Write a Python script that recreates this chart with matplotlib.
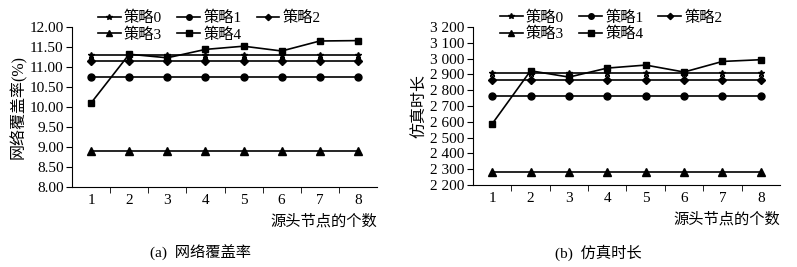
import matplotlib.pyplot as plt
from matplotlib.ticker import FuncFormatter

plt.rcParams['font.family'] = ['Liberation Serif', 'Noto Sans CJK SC']

nodes = [1, 2, 3, 4, 5, 6, 7, 8]
names = ["策略0", "策略1", "策略2", "策略3", "策略4"]
markers = ["*", "o", "D", "^", "s"]
msizes = [5, 5, 4, 6, 5]

# 网络覆盖率 (%)
cover0 = [11.29] * 8
cover1 = [10.75] * 8
cover2 = [11.14] * 8
cover3 = [8.90] * 8
cover4 = [10.10, 11.32, 11.23, 11.44, 11.52, 11.40, 11.65, 11.66]

# 仿真时长
time0 = [2908] * 8
time1 = [2763] * 8
time2 = [2866] * 8
time3 = [2283] * 8
time4 = [2587, 2923, 2883, 2940, 2959, 2915, 2982, 2993]

fig = plt.figure(figsize=(7.97, 2.67), dpi=100)
ax1 = fig.add_axes([72 / 797, 1 - 187 / 267, 305 / 797, 160 / 267])
ax2 = fig.add_axes([473 / 797, 1 - 185 / 267, 307 / 797, 158 / 267])


def Dibujar(ax, series, ymin, ymax, step, fmt, ylabel):
    lineas = []
    for s, n, m, ms in zip(series, names, markers, msizes):
        l, = ax.plot(nodes, s, color="black", lw=1.2, marker=m, ms=ms, label=n)
        lineas.append(l)
    ax.set_xlim(0.5, 8.5)
    ax.set_ylim(ymin, ymax)
    yt = []
    v = ymin
    while v <= ymax + 1e-9:
        yt.append(v)
        v += step
    ax.set_yticks(yt)
    ax.yaxis.set_major_formatter(FuncFormatter(fmt))
    ax.set_xticks(nodes)
    ax.set_xticks([i + 0.5 for i in range(1, 8)], minor=True)
    ax.tick_params(axis="x", which="major", length=0, labelsize=11, pad=5)
    ax.tick_params(axis="x", which="minor", length=4, direction="out")
    ax.tick_params(axis="y", length=4, direction="out", labelsize=11, pad=2)
    ax.spines["top"].set_visible(False)
    ax.spines["right"].set_visible(False)
    ax.set_ylabel(ylabel, fontsize=11.5, labelpad=2)
    ax.text(1.0, -0.17, "源头节点的个数", transform=ax.transAxes,
            ha="right", va="top", fontsize=11)
    # orden por filas: 0 1 2 / 3 4
    orden = [0, 3, 1, 4, 2]
    ax.legend([lineas[i] for i in orden], [names[i] for i in orden],
              ncol=3, loc="lower center", bbox_to_anchor=(0.45, 0.86),
              frameon=False, fontsize=11, handlelength=1.5,
              handletextpad=0.2, columnspacing=1.0, labelspacing=0.15,
              borderpad=0, markerscale=0.8)


Dibujar(ax1, [cover0, cover1, cover2, cover3, cover4], 8.0, 12.0, 0.5,
        lambda v, p: "%.2f" % v, "网络覆盖率(%)")
Dibujar(ax2, [time0, time1, time2, time3, time4], 2200, 3200, 100,
        lambda v, p: "%d %03d" % (int(v) // 1000, int(v) % 1000), "仿真时长")

fig.text(200 / 797, 1 - 253 / 267, "(a)  网络覆盖率", ha="center", va="center", fontsize=11)
fig.text(598 / 797, 1 - 253 / 267, "(b)  仿真时长", ha="center", va="center", fontsize=11)

fig.savefig("out.png", dpi=100)
